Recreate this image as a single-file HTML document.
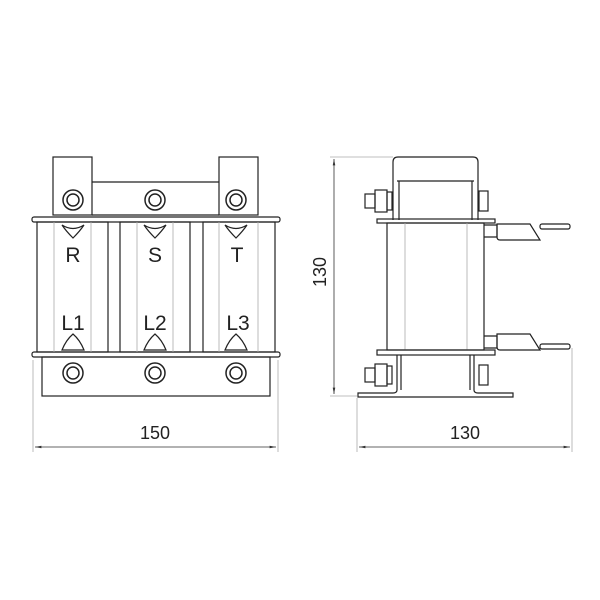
<!DOCTYPE html>
<html><head><style>body{margin:0;background:#fff}svg{display:block}</style></head><body>
<svg width="600" height="600" viewBox="0 0 600 600" xmlns="http://www.w3.org/2000/svg" font-family="Liberation Sans, sans-serif">
<defs>
<marker id="a" viewBox="0 0 10 10" refX="10" refY="5" markerWidth="8" markerHeight="8" orient="auto-start-reverse"><path d="M0,3 L10,5 L0,7" fill="#333"/></marker>
</defs>
<g fill="none" stroke="#222" stroke-width="1.2">
<rect x="53" y="157" width="39" height="58"/>
<rect x="219" y="157" width="39" height="58"/>
<line x1="92" y1="182" x2="219" y2="182"/>
<line x1="92" y1="215" x2="219" y2="215"/>
<rect x="32" y="217" width="248" height="5" rx="2"/>
<rect x="32" y="352" width="248" height="5" rx="2"/>
<rect x="37" y="222" width="71" height="130"/>
<rect x="120" y="222" width="70" height="130"/>
<rect x="203" y="222" width="72" height="130"/>
<g stroke="#aaa" stroke-width="0.8">
<line x1="54" y1="222" x2="54" y2="352"/><line x1="91" y1="222" x2="91" y2="352"/>
<line x1="137" y1="222" x2="137" y2="352"/><line x1="173" y1="222" x2="173" y2="352"/>
<line x1="219" y1="222" x2="219" y2="352"/><line x1="258" y1="222" x2="258" y2="352"/>
<line x1="33" y1="360" x2="33" y2="452"/><line x1="278" y1="360" x2="278" y2="452"/>
</g>
<rect x="42" y="357" width="228" height="39"/>
<g stroke-width="1.5">
<circle cx="73" cy="200" r="10"/><circle cx="73" cy="200" r="6"/>
<circle cx="155" cy="200" r="10"/><circle cx="155" cy="200" r="6"/>
<circle cx="236" cy="200" r="10"/><circle cx="236" cy="200" r="6"/>
<circle cx="73" cy="373" r="10"/><circle cx="73" cy="373" r="6"/>
<circle cx="155" cy="373" r="10"/><circle cx="155" cy="373" r="6"/>
<circle cx="236" cy="373" r="10"/><circle cx="236" cy="373" r="6"/>
</g>
<path d="M62,225 Q73,232 84,225 Q80,231 73,238 Q66,231 62,225Z"/>
<path d="M144,225 Q155,232 166,225 Q162,231 155,238 Q148,231 144,225Z"/>
<path d="M225,225 Q236,232 247,225 Q243,231 236,238 Q229,231 225,225Z"/>
<path d="M62,350 Q66,340 73,334 Q80,340 84,350Z"/>
<path d="M144,350 Q148,340 155,334 Q162,340 166,350Z"/>
<path d="M225,350 Q229,340 236,334 Q243,340 247,350Z"/>
<path d="M393,220 V162 Q393,157 398,157 H473 Q478,157 478,162 V220"/>
<line x1="397" y1="181" x2="474" y2="181"/>
<line x1="399" y1="181" x2="399" y2="220"/><line x1="472" y1="181" x2="472" y2="220"/>
<rect x="377" y="219" width="118" height="4"/>
<rect x="387" y="223" width="97" height="127"/>
<g stroke="#aaa" stroke-width="0.8"><line x1="405" y1="223" x2="405" y2="350"/><line x1="467" y1="223" x2="467" y2="350"/>
<line x1="330" y1="157" x2="393" y2="157"/><line x1="330" y1="396" x2="357" y2="396"/>
<line x1="357" y1="398" x2="357" y2="452"/><line x1="572" y1="348" x2="572" y2="452"/></g>
<rect x="377" y="350" width="118" height="5"/>
<path d="M397,355 V390 Q397,393 393,393 H358 V397 H513 V393 H478 Q474,393 474,390 V355"/>
<line x1="401" y1="355" x2="401" y2="390"/><line x1="470" y1="355" x2="470" y2="390"/>
<rect x="365" y="194" width="10" height="14"/><rect x="375" y="190" width="12" height="22"/><rect x="387" y="192" width="5" height="18"/>
<rect x="479" y="191" width="9" height="20"/>
<rect x="365" y="368" width="10" height="14"/><rect x="375" y="364" width="12" height="22"/><rect x="387" y="366" width="5" height="18"/>
<rect x="479" y="365" width="9" height="20"/>
<path d="M484,225 H497 V237 H484"/><path d="M497,224 H530 L540,240 H500 Q497,240 497,237 Z"/><rect x="540" y="224" width="30" height="5" rx="2"/>
<path d="M484,336 H497 V348 H484"/><path d="M497,334 H530 L540,350 H500 Q497,350 497,347 Z"/><rect x="540" y="344" width="30" height="5" rx="2"/>
</g>
<g stroke="#333" stroke-width="0.8">
<line x1="35" y1="447" x2="276" y2="447" marker-start="url(#a)" marker-end="url(#a)"/>
<line x1="359" y1="447" x2="570" y2="447" marker-start="url(#a)" marker-end="url(#a)"/>
<line x1="334" y1="159" x2="334" y2="394" marker-start="url(#a)" marker-end="url(#a)"/>
</g>
<g font-size="21" fill="#222" text-anchor="middle">
<text x="73" y="262">R</text><text x="155" y="262">S</text><text x="237" y="262">T</text>
<text x="73" y="330">L1</text><text x="155" y="330">L2</text><text x="238" y="330">L3</text>
<text x="155" y="439" font-size="18">150</text>
<text x="465" y="439" font-size="18">130</text>
<text x="0" y="0" font-size="18" transform="translate(326,272) rotate(-90)">130</text>
</g>
</svg>
</body></html>
